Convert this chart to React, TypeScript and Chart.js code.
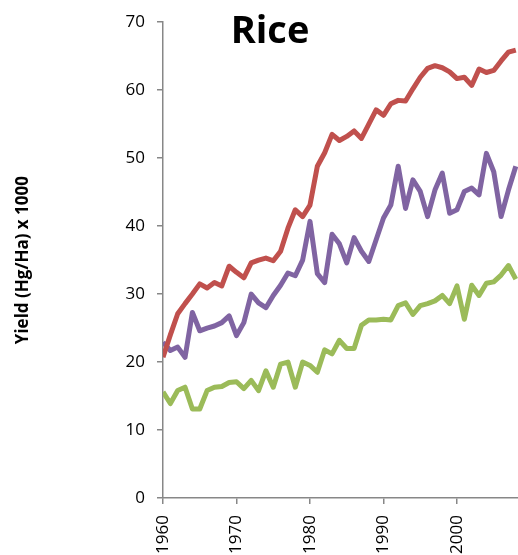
import React, { useEffect, useRef } from "react";
import { Chart, registerables } from "chart.js";

Chart.register(...registerables);

const TITLE = "Rice";
const Y_TITLE = "Yield (Hg/Ha) x 1000";

const years = [
  1960, 1961, 1962, 1963, 1964, 1965, 1966, 1967, 1968, 1969,
  1970, 1971, 1972, 1973, 1974, 1975, 1976, 1977, 1978, 1979,
  1980, 1981, 1982, 1983, 1984, 1985, 1986, 1987, 1988, 1989,
  1990, 1991, 1992, 1993, 1994, 1995, 1996, 1997, 1998, 1999,
  2000, 2001, 2002, 2003, 2004, 2005, 2006, 2007, 2008,
];

const redSeries = [
  20.7, 24.0, 27.1, 28.6, 30.0, 31.5, 30.9, 31.7, 31.2, 34.1,
  33.2, 32.4, 34.6, 35.0, 35.3, 34.9, 36.3, 39.7, 42.4, 41.4,
  43.1, 48.8, 50.8, 53.5, 52.6, 53.2, 54.0, 52.9, 55.0, 57.1,
  56.3, 58.0, 58.5, 58.4, 60.2, 61.9, 63.2, 63.6, 63.3, 62.7,
  61.7, 61.9, 60.7, 63.1, 62.6, 62.9, 64.3, 65.6, 65.9,
];

const purpleSeries = [
  22.9, 21.7, 22.2, 20.7, 27.3, 24.6, 25.0, 25.3, 25.8, 26.8,
  23.9, 25.8, 30.0, 28.7, 28.0, 29.8, 31.3, 33.1, 32.7, 35.0,
  40.7, 33.0, 31.7, 38.8, 37.4, 34.6, 38.3, 36.3, 34.8, 38.0,
  41.2, 43.1, 48.8, 42.6, 46.8, 45.1, 41.4, 45.3, 47.8, 41.9,
  42.4, 45.1, 45.6, 44.6, 50.7, 48.0, 41.4, 45.3, 48.8,
];

const greenSeries = [
  15.6, 13.9, 15.8, 16.3, 13.1, 13.1, 15.8, 16.3, 16.4, 17.0,
  17.1, 16.1, 17.3, 15.8, 18.7, 16.3, 19.7, 20.0, 16.3, 20.0,
  19.5, 18.5, 21.8, 21.2, 23.2, 22.0, 22.0, 25.4, 26.2, 26.2,
  26.3, 26.2, 28.3, 28.7, 27.0, 28.3, 28.6, 29.0, 29.8, 28.6,
  31.2, 26.3, 31.3, 29.8, 31.6, 31.8, 32.8, 34.2, 32.2,
];

const yTicks = [0, 10, 20, 30, 40, 50, 60, 70];
const xTickLabels = [1960, 1970, 1980, 1990, 2000];

const FONT = '"Open Sans", "Liberation Sans", sans-serif';
const AXIS_COLOR = "#878787";

const toPoints = (vals: number[]) => years.map((yr, i) => ({ x: yr, y: vals[i] }));

const titlePlugin = {
  id: "riceTitle",
  afterDraw(chart: any) {
    const ctx = chart.ctx;
    ctx.save();
    ctx.font = `bold 38px ${FONT}`;
    ctx.fillStyle = "#000000";
    ctx.textAlign = "center";
    ctx.textBaseline = "alphabetic";
    ctx.fillText(TITLE, 270, 43);
    ctx.restore();
  },
};

export default function App() {
  const ref = useRef<HTMLCanvasElement | null>(null);

  useEffect(() => {
    if (!ref.current) return;
    const lineDs = (label: string, vals: number[], color: string) => ({
      label,
      data: toPoints(vals),
      borderColor: color,
      backgroundColor: color,
      borderWidth: 5,
      pointRadius: 0,
      tension: 0,
      borderJoinStyle: "round" as const,
      borderCapStyle: "butt" as const,
    });
    const chart = new Chart(ref.current, {
      type: "line",
      data: {
        datasets: [
          lineDs("Series 1", redSeries, "#C0504D"),
          lineDs("Series 2", purpleSeries, "#8064A2"),
          lineDs("Series 3", greenSeries, "#9BBB59"),
        ],
      },
      options: {
        responsive: false,
        animation: false,
        layout: { padding: { top: 20, right: 0, bottom: 0, left: 0 } },
        plugins: {
          legend: { display: false },
          tooltip: { enabled: false },
          title: { display: false },
        },
        scales: {
          x: {
            type: "linear",
            min: 1960,
            max: 2008.3,
            afterBuildTicks: (scale: any) => {
              scale.ticks = xTickLabels.map((v) => ({ value: v }));
            },
            afterFit: (scale: any) => {
              scale.height = 57;
            },
            ticks: {
              minRotation: 90,
              maxRotation: 90,
              padding: 11,
              color: "#000000",
              font: { family: FONT, size: 17 },
              callback: (v: any) => String(v),
            },
            grid: {
              display: true,
              drawOnChartArea: false,
              drawTicks: true,
              tickLength: 6,
              color: AXIS_COLOR,
              lineWidth: 1.5,
            },
            border: { display: true, color: AXIS_COLOR, width: 1.5 },
          },
          y: {
            type: "linear",
            min: 0,
            max: 70,
            afterBuildTicks: (scale: any) => {
              scale.ticks = yTicks.map((v) => ({ value: v }));
            },
            afterFit: (scale: any) => {
              scale.width = 163;
            },
            ticks: {
              padding: 12,
              color: "#000000",
              font: { family: FONT, size: 17 },
            },
            title: {
              display: true,
              text: Y_TITLE,
              color: "#000000",
              font: { family: FONT, size: 17, weight: "bold" },
              padding: { top: 13, bottom: 0 },
            },
            grid: {
              display: true,
              drawOnChartArea: false,
              drawTicks: true,
              tickLength: 6,
              color: AXIS_COLOR,
              lineWidth: 1.5,
            },
            border: { display: true, color: AXIS_COLOR, width: 1.5 },
          },
        },
      },
      plugins: [titlePlugin],
    });
    return () => chart.destroy();
  }, []);

  return (
    <div style={{ position: "absolute", left: 0, top: 0, width: 518, height: 555, background: "#ffffff" }}>
      <canvas ref={ref} width={518} height={555} style={{ display: "block" }} />
    </div>
  );
}
